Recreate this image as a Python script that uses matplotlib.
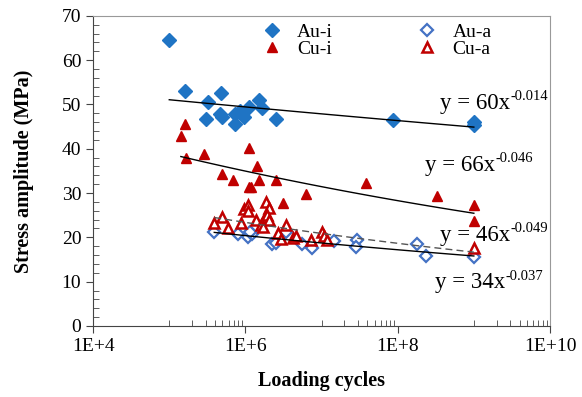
import numpy as np
import matplotlib
matplotlib.use("Agg")
import matplotlib.pyplot as plt
from matplotlib.ticker import FixedLocator, NullFormatter

plt.rcParams['font.family'] = ['Liberation Serif', 'DejaVu Serif']

# Au-i (filled diamonds)
aui_x = [1.0e5, 1.62e5, 3.0e5, 3.24e5, 4.76e5, 4.62e5, 5.0e5, 7.2e5, 7.4e5, 8.5e5,
         9.5e5, 1.11e6, 1.5e6, 1.66e6, 2.5e6, 8.6e7, 1e9, 1e9]
aui_y = [64.6, 53.1, 46.8, 50.5, 52.7, 47.8, 47.1, 45.7, 47.8, 48.6,
         47.2, 49.4, 51.0, 49.2, 46.7, 46.5, 46.1, 45.3]

# Cu-i (filled triangles)
cui_x = [1.42e5, 1.62e5, 1.65e5, 2.88e5, 5.0e5, 6.9e5, 1.12e6, 1.4e6, 1.12e6, 1.2e6,
         1.5e6, 2.5e6, 3.14e6, 6.24e6, 3.8e7, 3.3e8, 1e9, 1e9]
cui_y = [42.9, 45.7, 38.0, 38.8, 34.4, 32.9, 40.1, 36.2, 31.4, 31.4,
         32.9, 32.9, 27.8, 29.8, 32.2, 29.3, 27.4, 23.8]

# Au-a (open diamonds)
aua_x = [3.9e5, 8.0e5, 1.07e6, 1.23e6, 1.15e6, 2.24e6, 2.5e6, 3.4e6, 5.5e6, 7.6e6,
         1.45e7, 2.95e7, 2.8e7, 1.8e8, 2.35e8, 1e9]
aua_y = [21.3, 20.7, 20.1, 20.7, 21.2, 18.4, 18.7, 21.3, 18.4, 17.5,
         19.2, 19.4, 17.9, 18.4, 15.8, 15.6]

# Cu-a (open triangles)
cua_x = [3.9e5, 4.95e5, 5.83e5, 8.7e5, 9.5e5, 1.09e6, 1.09e6, 1.36e6, 1.58e6, 1.8e6,
         1.84e6, 2.04e6, 1.9e6, 2.04e6, 1.7e6, 2.7e6, 2.92e6, 3.4e6, 4.27e6, 4.68e6,
         7.2e6, 1.0e7, 1.07e7, 1.19e7, 1e9]
cua_y = [23.3, 24.7, 22.2, 23.2, 26.4, 27.4, 25.9, 23.9, 22.8, 24.7,
         27.9, 26.7, 25.0, 23.9, 22.4, 20.9, 19.6, 22.8, 19.9, 20.4,
         19.4, 21.1, 20.4, 19.4, 17.5]

# power-law fits y = a x^b  (order: Au-i, Cu-i, Au-a, Cu-a)
fit_a = [60, 66, 34, 46]
fit_b = [-0.014, -0.046, -0.037, -0.049]
label_pos = [(3.6e8, 50.3), (2.3e8, 36.3), (3.1e8, 9.7), (3.6e8, 20.5)]

fig = plt.figure(figsize=(5.82, 3.97), dpi=100)
ax = fig.add_axes([0.160, 0.179, 0.785, 0.781])

blue = '#1f74c4'
blue_o = '#4472c4'
red = '#c00000'

ax.plot(aui_x, aui_y, 'D', color=blue, ms=7, label='Au-i', ls='none')
ax.plot(cui_x, cui_y, '^', color=red, ms=7.5, label='Cu-i', ls='none')
ax.plot(aua_x, aua_y, 'D', mfc='white', mec=blue_o, mew=1.6, ms=6.5, label='Au-a', ls='none')
ax.plot(cua_x, cua_y, '^', mfc='white', mec=red, mew=1.8, ms=7.5, label='Cu-a', ls='none')

series_x = [aui_x, cui_x, aua_x, cua_x]
styles = ['-', '-', '-', (0, (5, 3))]
for xs, a, b, st in zip(series_x, fit_a, fit_b, styles):
    xx = np.logspace(np.log10(min(xs)), np.log10(max(xs)), 50)
    ax.plot(xx, a * xx ** b, color='black' if st == '-' else '#555555', lw=1, ls=st)

# equation labels: main text + superscript exponent (hyphen, not minus)
for a, b, (tx, ty) in zip(fit_a, fit_b, label_pos):
    t = ax.text(tx, ty, f'y = {a}x', fontsize=16.5, va='center', ha='left')
    ax.annotate(f'{b}', xy=(1.0, 0.5), xycoords=t, fontsize=10.5, va='bottom', ha='left')

ax.set_xscale('log')
ax.set_xlim(1e4, 1e10)
ax.set_ylim(0, 70)
ax.xaxis.set_major_locator(FixedLocator([1e4, 1e6, 1e8, 1e10]))
ax.set_xticklabels(['1E+4', '1E+6', '1E+8', '1E+10'])
minors = [k * 10.0 ** d for d in (5, 7, 9) for k in range(1, 10)]
ax.xaxis.set_minor_locator(FixedLocator(minors))
ax.xaxis.set_minor_formatter(NullFormatter())
ax.set_yticks(range(0, 71, 10))
ax.set_yticks(range(0, 71, 2), minor=True)
ax.tick_params(which='major', direction='out', length=5, labelsize=14, color='#444444')
ax.tick_params(which='minor', direction='in', length=4, color='#444444')

for s in ['top', 'right']:
    ax.spines[s].set_color('#999999')
for s in ['left', 'bottom']:
    ax.spines[s].set_color('#444444')

ax.set_xlabel('Loading cycles', fontsize=14.5, fontweight='bold', labelpad=12)
ax.set_ylabel('Stress amplitude (MPa)', fontsize=14.5, fontweight='bold', labelpad=20)

ax.legend(ncol=2, loc='upper right', bbox_to_anchor=(0.898, 1.015), frameon=False,
          fontsize=14, handletextpad=0.3, columnspacing=3.85, labelspacing=0.0,
          borderaxespad=0.2)

fig.savefig('out.png', dpi=100)
